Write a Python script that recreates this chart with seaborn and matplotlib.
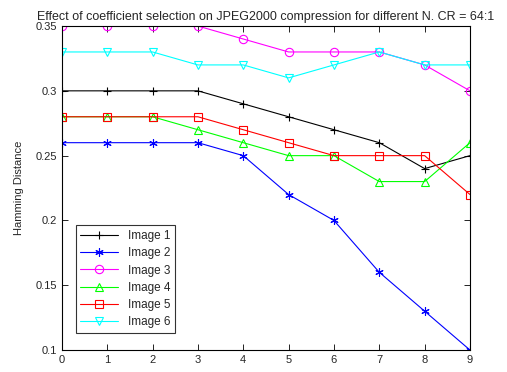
import numpy as np
import pandas as pd
import seaborn as sns
from matplotlib import pyplot as plt

sns.set_style("white")
plt.rcParams['font.family'] = ['Liberation Sans', 'DejaVu Sans']

N = list(range(10))
image1 = [0.30, 0.30, 0.30, 0.30, 0.29, 0.28, 0.27, 0.26, 0.24, 0.25]
image2 = [0.26, 0.26, 0.26, 0.26, 0.25, 0.22, 0.20, 0.16, 0.13, 0.10]
image3 = [0.35, 0.35, 0.35, 0.35, 0.34, 0.33, 0.33, 0.33, 0.32, 0.30]
image4 = [0.28, 0.28, 0.28, 0.27, 0.26, 0.25, 0.25, 0.23, 0.23, 0.26]
image5 = [0.28, 0.28, 0.28, 0.28, 0.27, 0.26, 0.25, 0.25, 0.25, 0.22]
image6 = [0.33, 0.33, 0.33, 0.32, 0.32, 0.31, 0.32, 0.33, 0.32, 0.32]
labels = ["Image 1", "Image 2", "Image 3", "Image 4", "Image 5", "Image 6"]
colors = ["black", "blue", "magenta", "lime", "red", "cyan"]
markers = ["+", (6, 2, 0), "o", "^", "s", "v"]

series = [image1, image2, image3, image4, image5, image6]
df = pd.concat([pd.DataFrame({"N": N, "dist": s, "img": lab}) for s, lab in zip(series, labels)])

fig = plt.figure(figsize=(5.07, 3.72), dpi=100)
ax = fig.add_axes([0.122, 0.059, 0.805, 0.871])

for lab, col, mk in zip(labels, colors, markers):
    sub = df[df["img"] == lab]
    sns.lineplot(data=sub, x="N", y="dist", color=col, marker=mk, ax=ax, label=lab,
                 linewidth=0.8, markersize=6, markerfacecolor="none",
                 markeredgecolor=col, markeredgewidth=0.8)

ax.set_xlim(0, 9)
ax.set_ylim(0.1, 0.35)
ax.set_xticks(range(10))
ax.set_yticks([0.1, 0.15, 0.2, 0.25, 0.3, 0.35])
ax.set_yticklabels(["0.1", "0.15", "0.2", "0.25", "0.3", "0.35"])
ax.tick_params(direction="in", length=4, labelsize=8, top=True, right=True,
               bottom=True, left=True, color="black", width=0.6)
for sp in ax.spines.values():
    sp.set_color("black")
    sp.set_linewidth(0.8)
ax.set_xlabel("")
ax.set_ylabel("Hamming Distance", fontsize=8, labelpad=8)
ax.set_title("Effect of coefficient selection on JPEG2000 compression for different N. CR = 64:1",
             fontsize=9, pad=4)

leg = ax.legend(loc="lower left", bbox_to_anchor=(0.034, 0.052), fontsize=8.5,
                frameon=True, fancybox=False, edgecolor="black", borderaxespad=0,
                handlelength=3.2, labelspacing=0.45)
leg.get_frame().set_linewidth(0.8)

fig.savefig("out.png", dpi=100)
